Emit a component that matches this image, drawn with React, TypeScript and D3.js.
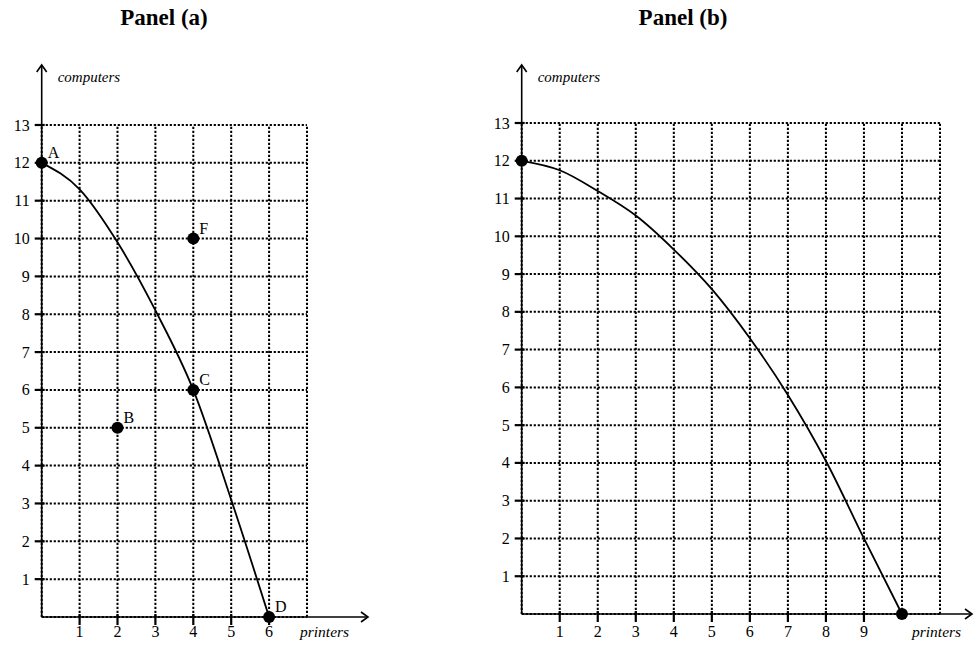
import React from "react";
import * as d3 from "d3";

// panel (a)
const xTicksA = [1, 2, 3, 4, 5, 6];
const gridXA = [0, 1, 2, 3, 4, 5, 6, 7];
const curveAx = [0, 1, 2, 3, 4, 5, 6];
const curveAy = [12, 11.3, 9.9, 8.1, 6, 3.1, 0];
const pointNames = ["A", "B", "C", "D", "F"];
const pointX = [0, 2, 4, 6, 4];
const pointY = [12, 5, 6, 0, 10];

// panel (b)
const xTicksB = [1, 2, 3, 4, 5, 6, 7, 8, 9];
const gridXB = [0, 1, 2, 3, 4, 5, 6, 7, 8, 9, 10, 11];
const curveBx = [0, 1, 2, 3, 4, 5, 6, 7, 8, 9, 10];
const curveBy = [12, 11.75, 11.2, 10.55, 9.65, 8.6, 7.3, 5.8, 4.05, 2.0, 0];
const endPointsB = [[0, 12], [10, 0]];

// shared
const yTicks = [1, 2, 3, 4, 5, 6, 7, 8, 9, 10, 11, 12, 13];
const gridY = [0, 1, 2, 3, 4, 5, 6, 7, 8, 9, 10, 11, 12, 13];

const serif = "'Liberation Serif', 'Times New Roman', serif";

const Panel = ({ title, titleX, x, y, gridX, xTicks, curve, points, labels, arrowX, printersX }) => {
    const line = d3.line().x((d) => x(d[0])).y((d) => y(d[1])).curve(d3.curveMonotoneX);
    const x0 = x(0), y0 = y(0);
    const xMax = x(gridX[gridX.length - 1]);
    const yTop = y(13);
    return (
        <g>
            <text x={titleX} y={25} textAnchor="middle" fontFamily={serif} fontWeight="bold" fontSize="23">{title}</text>
            {/* grid */}
            {gridY.map((v) => (
                <line key={"gy" + v} x1={x0} x2={xMax} y1={y(v)} y2={y(v)}
                    stroke="#000" strokeWidth="2" strokeDasharray="2.2 1.8" />
            ))}
            {gridX.map((v) => (
                <line key={"gx" + v} x1={x(v)} x2={x(v)} y1={y0} y2={yTop}
                    stroke="#000" strokeWidth="2" strokeDasharray="2.2 1.8" />
            ))}
            {/* axes */}
            <line x1={x0} x2={x0} y1={y0} y2={65} stroke="#000" strokeWidth="1.6" />
            <polyline points={`${x0 - 5},${72} ${x0},${65} ${x0 + 5},${72}`} fill="none" stroke="#000" strokeWidth="1.6" />
            <line x1={x0} x2={arrowX} y1={y0} y2={y0} stroke="#000" strokeWidth="1.6" />
            <polyline points={`${arrowX - 7},${y0 - 5} ${arrowX},${y0} ${arrowX - 7},${y0 + 5}`} fill="none" stroke="#000" strokeWidth="1.6" />
            <text x={x0 + 16} y={82} fontFamily={serif} fontStyle="italic" fontSize="15">computers</text>
            <text x={printersX} y={637} fontFamily={serif} fontStyle="italic" fontSize="15.5">printers</text>
            {/* ticks */}
            {yTicks.map((v) => (
                <g key={"yt" + v}>
                    <line x1={x0 - 7} x2={x0 + 3} y1={y(v)} y2={y(v)} stroke="#000" strokeWidth="2.2" />
                    <text x={x0 - 12} y={y(v) + 5.5} textAnchor="end" fontFamily={serif} fontSize="16">{v}</text>
                </g>
            ))}
            {xTicks.map((v) => (
                <g key={"xt" + v}>
                    <line x1={x(v)} x2={x(v)} y1={y0 - 3} y2={y0 + 8} stroke="#000" strokeWidth="2.2" />
                    <text x={x(v)} y={637} textAnchor="middle" fontFamily={serif} fontSize="16">{v}</text>
                </g>
            ))}
            {/* curve */}
            <path d={line(curve)} fill="none" stroke="#000" strokeWidth="1.8" />
            {points.map((p, i) => (
                <g key={"p" + i}>
                    <circle cx={x(p[0])} cy={y(p[1])} r="6" fill="#000" />
                    {labels[i] ? (
                        <text x={x(p[0]) + 6} y={y(p[1]) - 5} fontFamily={serif} fontSize="16">{labels[i]}</text>
                    ) : null}
                </g>
            ))}
        </g>
    );
};

export default function App() {
    const xA = d3.scaleLinear().domain([0, 7]).range([41.7, 307]);
    const yA = d3.scaleLinear().domain([0, 13]).range([617, 125]);
    const xB = d3.scaleLinear().domain([0, 11]).range([521.7, 940]);
    const yB = d3.scaleLinear().domain([0, 13]).range([614, 123]);

    const curveA = curveAx.map((v, i) => [v, curveAy[i]]);
    const curveB = curveBx.map((v, i) => [v, curveBy[i]]);
    const pointsA = pointX.map((v, i) => [v, pointY[i]]);

    return (
        <svg width={974} height={650} style={{ position: "absolute", left: 0, top: 0, background: "#fff" }}>
            <Panel title="Panel (a)" titleX={164} x={xA} y={yA} gridX={gridXA} xTicks={xTicksA}
                curve={curveA} points={pointsA} labels={pointNames} arrowX={368} printersX={300} />
            <Panel title="Panel (b)" titleX={683} x={xB} y={yB} gridX={gridXB} xTicks={xTicksB}
                curve={curveB} points={endPointsB} labels={[]} arrowX={972} printersX={912} />
        </svg>
    );
}
